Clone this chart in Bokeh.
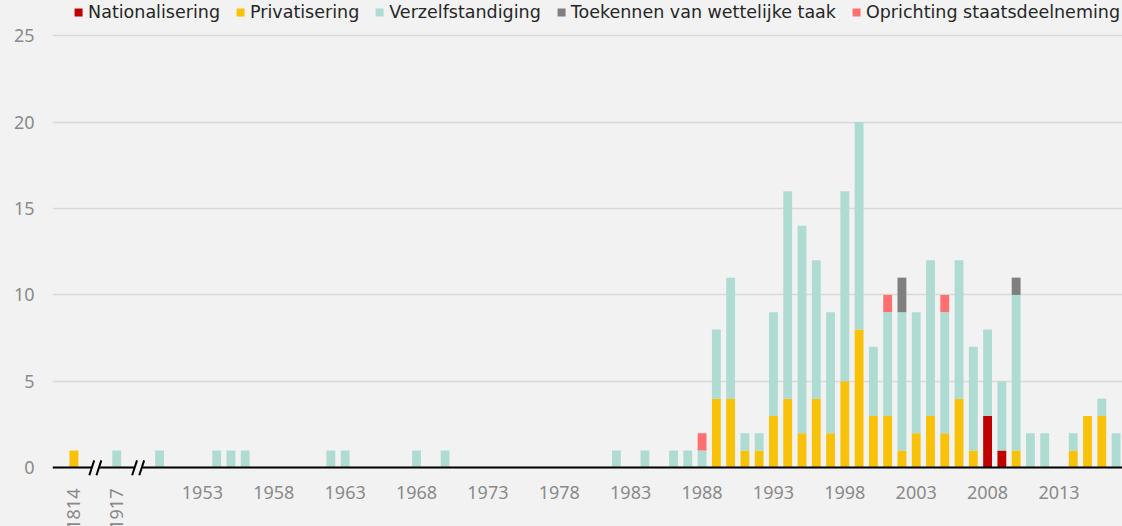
import math
from bokeh.plotting import figure
from bokeh.models import (ColumnDataSource, FixedTicker, Legend, LegendItem,
                          Label, Arrow, PolyAnnotation, Range1d)
from bokeh.embed import file_html
from bokeh.resources import INLINE

# ---------------- data ----------------
years = [1814, 1917, 1950, 1954, 1955, 1956, 1962, 1963, 1968, 1970,
         1982, 1984, 1986, 1987, 1988, 1989, 1990, 1991, 1992, 1993,
         1994, 1995, 1996, 1997, 1998, 1999, 2000, 2001, 2002, 2003,
         2004, 2005, 2006, 2007, 2008, 2009, 2010, 2011, 2012, 2014,
         2015, 2016, 2017]
nationalisering = [0, 0, 0, 0, 0, 0, 0, 0, 0, 0,
                   0, 0, 0, 0, 0, 0, 0, 0, 0, 0,
                   0, 0, 0, 0, 0, 0, 0, 0, 0, 0,
                   0, 0, 0, 0, 3, 1, 0, 0, 0, 0,
                   0, 0, 0]
privatisering = [1, 0, 0, 0, 0, 0, 0, 0, 0, 0,
                 0, 0, 0, 0, 0, 4, 4, 1, 1, 3,
                 4, 2, 4, 2, 5, 8, 3, 3, 1, 2,
                 3, 2, 4, 1, 0, 0, 1, 0, 0, 1,
                 3, 3, 0]
verzelfstandiging = [0, 1, 1, 1, 1, 1, 1, 1, 1, 1,
                     1, 1, 1, 1, 1, 4, 7, 1, 1, 6,
                     12, 12, 8, 7, 11, 12, 4, 6, 8, 7,
                     9, 7, 8, 6, 5, 4, 9, 2, 2, 1,
                     0, 1, 2]
toekennen = [0, 0, 0, 0, 0, 0, 0, 0, 0, 0,
             0, 0, 0, 0, 0, 0, 0, 0, 0, 0,
             0, 0, 0, 0, 0, 0, 0, 0, 2, 0,
             0, 0, 0, 0, 0, 0, 1, 0, 0, 0,
             0, 0, 0]
oprichting = [0, 0, 0, 0, 0, 0, 0, 0, 0, 0,
              0, 0, 0, 0, 1, 0, 0, 0, 0, 0,
              0, 0, 0, 0, 0, 0, 0, 1, 0, 0,
              0, 1, 0, 0, 0, 0, 0, 0, 0, 0,
              0, 0, 0]

series_keys = ["nat", "pri", "ver", "toe", "opr"]
series_labels = ["Nationalisering", "Privatisering", "Verzelfstandiging",
                 "Toekennen van wettelijke taak", "Oprichting staatsdeelneming"]
series_colors = ["#c00000", "#f8c10a", "#aedbd2", "#7f7f7f", "#fe6f6f"]

tick_years = [1953, 1958, 1963, 1968, 1973, 1978, 1983, 1988, 1993, 1998, 2003, 2008, 2013]
vertical_tick_years = [1814, 1917]
y_ticks = [0, 5, 10, 15, 20, 25]


# category positions: 1814, (break), 1917, (break), 1950 ... 2017
def pos(y):
    if y == 1814:
        return 0
    if y == 1917:
        return 3
    return y - 1950 + 6


break_positions = [1.5, 4.5]

BG = "#f2f2f2"
FONT = "Noto Sans"
GRAY = "#8a8a8a"

src = ColumnDataSource(dict(
    x=[pos(y) for y in years],
    nat=nationalisering, pri=privatisering, ver=verzelfstandiging,
    toe=toekennen, opr=oprichting,
))

p = figure(width=1122, height=526, output_backend="svg", toolbar_location=None,
           x_range=Range1d(-1.5, 73.45), y_range=Range1d(-3.395, 27.03),
           min_border_left=52, min_border_right=0, min_border_top=0,
           min_border_bottom=0)
p.background_fill_color = BG
p.border_fill_color = BG
p.outline_line_color = None

renderers = p.vbar_stack(series_keys, x="x", width=0.62, color=series_colors,
                         source=src, line_color=None)

# axes
p.xaxis.fixed_location = 0
p.xaxis.ticker = FixedTicker(ticks=[pos(y) for y in tick_years])
p.xaxis.major_label_overrides = {pos(y): str(y) for y in tick_years}
p.xaxis.axis_line_color = "black"
p.xaxis.axis_line_width = 2
p.xaxis.major_tick_line_color = None
p.xaxis.minor_tick_line_color = None
p.xaxis.major_label_text_font = FONT
p.xaxis.major_label_text_font_size = "18px"
p.xaxis.major_label_text_color = GRAY
p.xaxis.major_label_standoff = 12

p.yaxis.ticker = FixedTicker(ticks=y_ticks)
p.yaxis.axis_line_color = None
p.yaxis.major_tick_line_color = None
p.yaxis.minor_tick_line_color = None
p.yaxis.major_label_text_font = FONT
p.yaxis.major_label_text_font_size = "18px"
p.yaxis.major_label_text_color = GRAY
p.yaxis.major_label_standoff = 12

p.xgrid.grid_line_color = None
p.ygrid.grid_line_color = "#d9d9d9"
p.ygrid.grid_line_width = 1.6

# vertical tick labels for the early years
for yr in vertical_tick_years:
    p.add_layout(Label(x=pos(yr), y=-1.2, text=str(yr), angle=math.pi / 2,
                       text_align="right", text_baseline="middle",
                       text_font=FONT, text_font_size="18px", text_color=GRAY))

# axis break marks
for c in break_positions:
    p.add_layout(PolyAnnotation(xs=[c - 0.25, c + 0.25, c + 0.25, c - 0.25],
                                ys=[-0.1, -0.1, 0.1, 0.1],
                                fill_color=BG, fill_alpha=1, line_alpha=0))
    for dx in (-0.25, 0.25):
        p.add_layout(Arrow(end=None, x_start=c + dx - 0.17, y_start=-0.43,
                           x_end=c + dx + 0.17, y_end=0.43,
                           line_color="black", line_width=2))

legend = Legend(items=[LegendItem(label=l, renderers=[r])
                       for l, r in zip(series_labels, renderers)],
                orientation="horizontal", location="top_right")
legend.background_fill_alpha = 0
legend.border_line_alpha = 0
legend.padding = 0
legend.margin = 2
legend.spacing = 15
legend.glyph_width = 10
legend.glyph_height = 10
legend.label_standoff = 5
legend.label_text_font = "DejaVu Sans"
legend.label_text_font_size = "17.5px"
legend.label_text_color = "#262626"
legend.label_height = 18
p.add_layout(legend)

html = file_html(p, INLINE)
html = html.replace("<head>", "<head><style>body{background:#f2f2f2;}</style>", 1)
open("out.html", "w").write(html)
